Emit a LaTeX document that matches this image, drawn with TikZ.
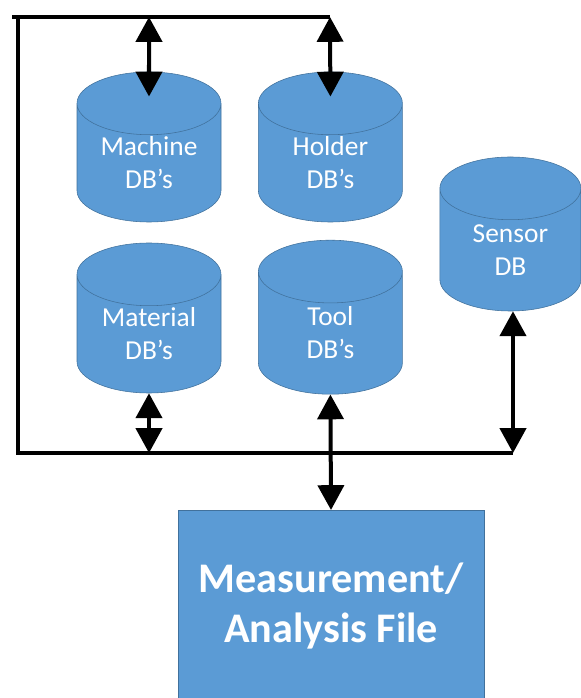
\documentclass[tikz,border=0pt]{standalone}
\usepackage{fontspec}
\setmainfont{Carlito}
\usetikzlibrary{shapes.geometric,arrows.meta}
\definecolor{dbblue}{RGB}{91,155,213}
\definecolor{dbedge}{RGB}{65,113,156}

\tikzset{
  dbcyl/.style={cylinder,shape border rotate=90,aspect=0.64,draw=dbedge,fill=dbblue,
    minimum width=3.6cm,minimum height=3.75cm,inner sep=0pt,text=white,align=center,
    text width=2.45cm,font=\fontsize{19.5}{23.4}\selectfont,anchor=shape center},
  bus/.style={line width=0.1cm},
  link/.style={line width=0.1cm,
    {Triangle[width=0.65cm,length=0.62cm]}-{Triangle[width=0.65cm,length=0.62cm]}}
}

\begin{document}
\begin{tikzpicture}
 \useasboundingbox (0,0) rectangle (14.525,17.45);
 % databases
 \node[dbcyl] (mach) at (3.725,13.775) {Machine\\DB’s};
 \node[dbcyl] (hold) at (8.26,13.775) {Holder\\DB’s};
 \node[dbcyl] (matl) at (3.725,9.5) {Material\\DB’s};
 \node[dbcyl,minimum height=3.85cm] (tool) at (8.26,9.52) {Tool\\DB’s};
 \node[dbcyl,minimum width=3.525cm,minimum height=3.85cm] (sens) at (12.76,11.6) {Sensor\\DB};
 % output file
 \node[draw=dbedge,fill=dbblue,minimum width=7.65cm,minimum height=4.8cm,anchor=north,
   text=white,align=center,font=\fontsize{30}{35.6}\selectfont\bfseries] (meas) at (8.275,4.7)
   {Measurement/\\Analysis File};
 % bus lines
 \coordinate (topL) at (0.3,17.025);
 \coordinate (topM) at (3.725,17.025);
 \coordinate (topH) at (8.25,17.025);
 \coordinate (cornerT) at (0.45,17.025);
 \coordinate (cornerB) at (0.45,6.125);
 \coordinate (botM) at (3.725,6.125);
 \coordinate (botS) at (12.825,6.125);
 \draw[bus] (topL) -- (topH);
 \draw[bus] (cornerT) -- (cornerB) -- (botS);
 % links
 \draw[link] (topM) -- ([yshift=-0.62cm]mach.north);
 \draw[link] (topH) -- ([yshift=-0.62cm]hold.north);
 \draw[link] (matl.south) -- (botM);
 \draw[link] (tool.south) -- (meas.north);
 \draw[link] (sens.south -| botS) -- (botS);
\end{tikzpicture}
\end{document}
